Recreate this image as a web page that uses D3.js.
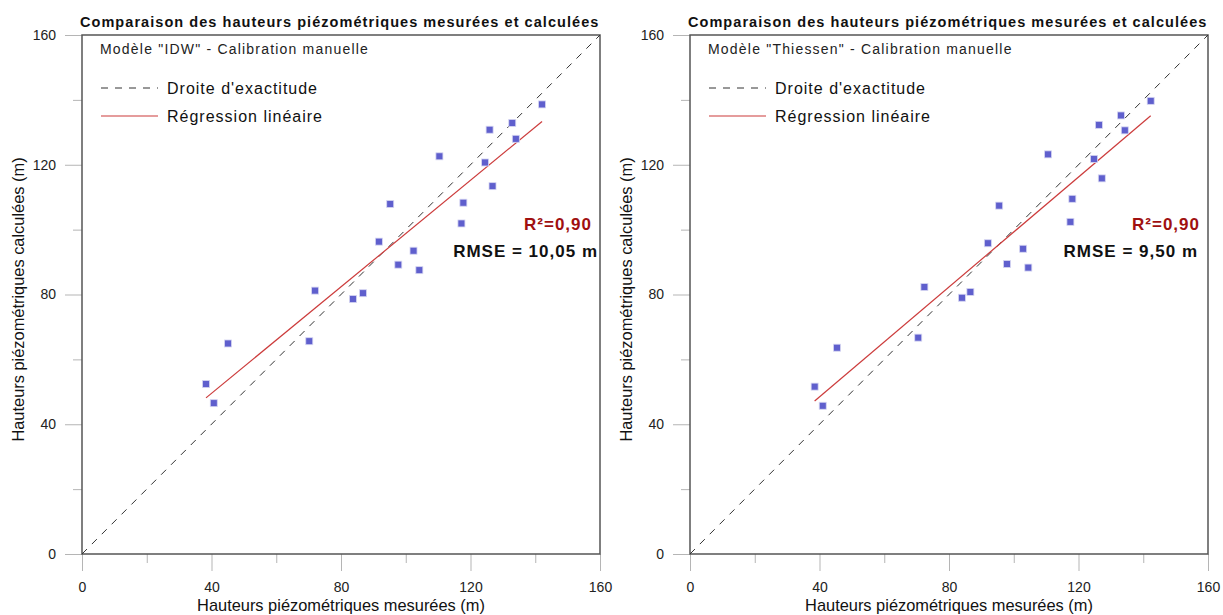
<!DOCTYPE html>
<html>
<head>
<meta charset="utf-8">
<script src="https://cdn.jsdelivr.net/npm/d3@7"></script>
<style>
  body { margin: 0; background: #fff; }
  svg { font-family: "Liberation Sans", Arial, sans-serif; }
</style>
</head>
<body>
<svg id="chart" width="1223" height="615"></svg>
<script>
// Heights (m).
const measuredIDW   = [142.1, 132.9, 125.9, 134.0, 110.4, 124.5, 126.8, 117.8, 95.2, 117.2, 91.7, 102.4, 97.7, 104.2, 72.0, 86.8, 83.7, 70.2, 45.1, 38.3, 40.7];
const calculatedIDW = [138.6, 132.9, 130.8, 128.0, 122.6, 120.7, 113.4, 108.3, 107.9, 101.9, 96.3, 93.5, 89.2, 87.5, 81.2, 80.4, 78.6, 65.6, 64.9, 52.4, 46.5];

const measuredThiessen   = [142.3, 133.1, 126.3, 134.3, 110.6, 124.8, 127.2, 118.1, 95.5, 117.5, 92.0, 102.9, 97.9, 104.5, 72.4, 86.6, 84.0, 70.5, 45.4, 38.5, 41.0];
const calculatedThiessen = [139.7, 135.2, 132.3, 130.6, 123.2, 121.8, 115.8, 109.5, 107.4, 102.4, 95.8, 94.1, 89.4, 88.3, 82.3, 80.8, 79.0, 66.7, 63.6, 51.6, 45.7];

const majorTicks = [0, 40, 80, 120, 160];
const minorTicks = [20, 60, 100, 140];

const models = ["IDW", "Thiessen"];
const r2Labels = ["R²=0,90", "R²=0,90"];
const rmseLabels = ["RMSE = 10,05 m", "RMSE = 9,50 m"];

const svg = d3.select("#chart");

// Layout of the two panels.
const panelLeft = [82, 690];
const r2End = [592, 1200];
const rmseEnd = [598, 1198];
const plotWidth = 518,
      plotTop = 35,
      plotBottom = 554;

const datasets = [
  d3.zip(measuredIDW, calculatedIDW),
  d3.zip(measuredThiessen, calculatedThiessen)
];

// Least squares fit.
function linearFit(pts) {
  const mx = d3.mean(pts, d => d[0]);
  const my = d3.mean(pts, d => d[1]);
  const sxy = d3.sum(pts, d => (d[0] - mx) * (d[1] - my));
  const sxx = d3.sum(pts, d => (d[0] - mx) * (d[0] - mx));
  const slope = sxy / sxx;
  return { slope, intercept: my - slope * mx };
}

datasets.forEach((pts, i) => {
  const left = panelLeft[i];
  const x = d3.scaleLinear().domain([0, 160]).range([left, left + plotWidth]);
  const y = d3.scaleLinear().domain([0, 160]).range([plotBottom, plotTop]);
  const g = svg.append("g");

  // Axes: major + minor ticks, light grey.
  const xMajor = g.append("g")
    .attr("transform", `translate(0,${plotBottom})`)
    .call(d3.axisBottom(x).tickValues(majorTicks).tickSize(17).tickPadding(11).tickFormat(d3.format("d")));
  const xMinor = g.append("g")
    .attr("transform", `translate(0,${plotBottom})`)
    .call(d3.axisBottom(x).tickValues(minorTicks).tickSize(9).tickFormat(""));
  const yMajor = g.append("g")
    .attr("transform", `translate(${left},0)`)
    .call(d3.axisLeft(y).tickValues(majorTicks).tickSize(17).tickPadding(9).tickFormat(d3.format("d")));
  const yMinor = g.append("g")
    .attr("transform", `translate(${left},0)`)
    .call(d3.axisLeft(y).tickValues(minorTicks).tickSize(9).tickFormat(""));

  [xMajor, xMinor, yMajor, yMinor].forEach(a => {
    a.select(".domain").remove();
    a.selectAll(".tick line").attr("stroke", "#b5b5b5");
    a.selectAll(".tick text")
      .attr("fill", "#222")
      .style("font-size", "14px")
      .style("font-family", "'Liberation Sans', Arial, sans-serif");
  });

  // Plot frame.
  g.append("rect")
    .attr("x", x(0))
    .attr("y", y(160))
    .attr("width", x(160) - x(0))
    .attr("height", y(0) - y(160))
    .attr("fill", "none")
    .attr("stroke", "#555")
    .attr("stroke-width", 1.5);

  // 1:1 line.
  g.append("line")
    .attr("x1", x(0)).attr("y1", y(0))
    .attr("x2", x(160)).attr("y2", y(160))
    .attr("stroke", "#333")
    .attr("stroke-width", 1)
    .attr("stroke-dasharray", "7,7");

  // Regression line over the data range.
  const fit = linearFit(pts);
  const xr = d3.extent(pts, d => d[0]);
  g.append("line")
    .attr("x1", x(xr[0])).attr("y1", y(fit.intercept + fit.slope * xr[0]))
    .attr("x2", x(xr[1])).attr("y2", y(fit.intercept + fit.slope * xr[1]))
    .attr("stroke", "#cc3b3b")
    .attr("stroke-width", 1.2);

  // Points.
  g.selectAll("rect.pt")
    .data(pts)
    .join("rect")
    .attr("class", "pt")
    .attr("x", d => x(d[0]) - 3.5)
    .attr("y", d => y(d[1]) - 3.5)
    .attr("width", 7)
    .attr("height", 7)
    .attr("fill", "#5f5fcd")
    .attr("stroke", "#d6d6f2")
    .attr("stroke-width", 0.8);

  // Title.
  g.append("text")
    .attr("x", left - 2)
    .attr("y", 27)
    .attr("font-size", 14.5)
    .attr("letter-spacing", 1.05)
    .attr("font-weight", "bold")
    .attr("fill", "#111")
    .text("Comparaison des hauteurs piézométriques mesurées et calculées");

  // Subtitle.
  g.append("text")
    .attr("x", left + 18)
    .attr("y", 54)
    .attr("font-size", 14)
    .attr("letter-spacing", 1.2)
    .attr("fill", "#222")
    .text(`Modèle "${models[i]}" - Calibration manuelle`);

  // Legend.
  g.append("line")
    .attr("x1", left + 19).attr("x2", left + 76)
    .attr("y1", 88).attr("y2", 88)
    .attr("stroke", "#333")
    .attr("stroke-dasharray", "7,7");
  g.append("text")
    .attr("x", left + 85)
    .attr("y", 94)
    .attr("font-size", 16)
    .attr("letter-spacing", 1)
    .attr("fill", "#111")
    .text("Droite d'exactitude");
  g.append("line")
    .attr("x1", left + 19).attr("x2", left + 76)
    .attr("y1", 116).attr("y2", 116)
    .attr("stroke", "#cc3b3b")
    .attr("stroke-width", 1.2);
  g.append("text")
    .attr("x", left + 85)
    .attr("y", 122)
    .attr("font-size", 16)
    .attr("letter-spacing", 1)
    .attr("fill", "#111")
    .text("Régression linéaire");

  // Stats.
  g.append("text")
    .attr("x", r2End[i])
    .attr("y", 230)
    .attr("text-anchor", "end")
    .attr("font-size", 17)
    .attr("letter-spacing", 1)
    .attr("font-weight", "bold")
    .attr("fill", "#a01010")
    .text(r2Labels[i]);
  g.append("text")
    .attr("x", rmseEnd[i])
    .attr("y", 257)
    .attr("text-anchor", "end")
    .attr("font-size", 17)
    .attr("letter-spacing", 1)
    .attr("font-weight", "bold")
    .attr("fill", "#111")
    .text(rmseLabels[i]);

  // Axis titles.
  g.append("text")
    .attr("x", x(80))
    .attr("y", 611)
    .attr("text-anchor", "middle")
    .attr("font-size", 16.4)
    .attr("fill", "#111")
    .text("Hauteurs piézométriques mesurées (m)");
  g.append("text")
    .attr("transform", `translate(${left - 58},${y(80) + 5}) rotate(-90)`)
    .attr("text-anchor", "middle")
    .attr("font-size", 16.4)
    .attr("fill", "#111")
    .text("Hauteurs piézométriques calculées (m)");
});
</script>
</body>
</html>
